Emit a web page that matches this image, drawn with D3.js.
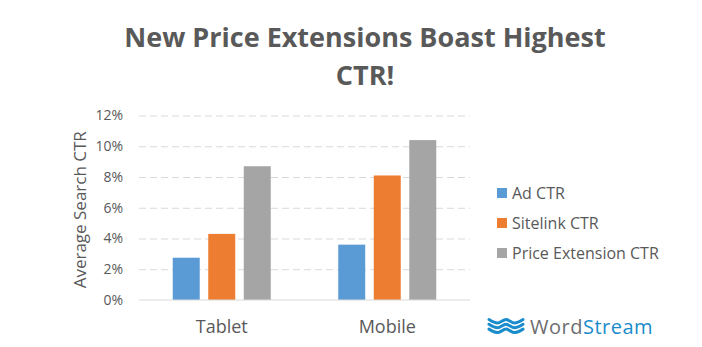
<!DOCTYPE html>
<html>
<head>
<meta charset="utf-8">
<script src="https://cdn.jsdelivr.net/npm/d3@7"></script>
<style>
  html, body { margin: 0; padding: 0; background: #fff; }
  svg { display: block; font-family: "Open Sans", "Noto Sans", sans-serif; }
</style>
</head>
<body>
<svg id="chart" width="702" height="347"></svg>
<script>
// Chart data
const categories = ["Tablet", "Mobile"];
const seriesNames = ["Ad CTR", "Sitelink CTR", "Price Extension CTR"];
const adCtr = [0.0275, 0.036];
const sitelinkCtr = [0.043, 0.081];
const priceExtensionCtr = [0.087, 0.104];
const yTicks = [0, 0.02, 0.04, 0.06, 0.08, 0.10, 0.12];
const titleLines = ["New Price Extensions Boast Highest", "CTR!"];
const yAxisTitle = "Average Search CTR";

const colors = ["#5b9bd5", "#ed7d31", "#a5a5a5"];
const seriesValues = [adCtr, sitelinkCtr, priceExtensionCtr];

const svg = d3.select("#chart");
const textColor = "#595959";

const plot = { left: 139, right: 470, top: 115.5, bottom: 300 };

const x0 = d3.scaleBand().domain(categories).range([plot.left, plot.right]).paddingInner(0).paddingOuter(0);
const x1 = d3.scaleBand().domain(seriesNames).range([0, x0.bandwidth()]).paddingInner(0.24).paddingOuter(0.95);
const y = d3.scaleLinear().domain([0, 0.12]).range([plot.bottom, plot.top]);

// Title
svg.append("g").selectAll("text").data(titleLines).join("text")
  .attr("x", 365)
  .attr("y", (d, i) => 47 + i * 38)
  .attr("text-anchor", "middle")
  .attr("font-weight", "bold")
  .attr("font-size", 27)
  .attr("fill", textColor)
  .text(d => d);

// Gridlines and value axis
const yAxis = d3.axisLeft(y).tickValues(yTicks).tickFormat(d3.format(".0%")).tickSize(0).tickPadding(0);
const gy = svg.append("g").attr("transform", `translate(${plot.left},0)`).call(yAxis);
gy.select(".domain").remove();
gy.selectAll(".tick text")
  .attr("x", -16)
  .attr("font-size", 14)
  .attr("font-family", "\"Open Sans\", sans-serif")
  .attr("fill", textColor);
gy.selectAll(".tick").filter(d => d > 0).append("line")
  .attr("x1", 0).attr("x2", plot.right - plot.left)
  .attr("stroke", "#d9d9d9").attr("stroke-width", 1.2)
  .attr("stroke-dasharray", "7,4");

// Bars
const rows = categories.map((c, i) => ({ cat: c, vals: seriesNames.map((s, j) => ({ s, v: seriesValues[j][i], j })) }));
svg.append("g").selectAll("g").data(rows).join("g")
  .attr("transform", d => `translate(${x0(d.cat)},0)`)
  .selectAll("rect").data(d => d.vals).join("rect")
  .attr("x", d => x1(d.s))
  .attr("width", x1.bandwidth())
  .attr("y", d => y(d.v))
  .attr("height", d => y(0) - y(d.v))
  .attr("fill", d => colors[d.j]);

// Baseline
svg.append("line")
  .attr("x1", plot.left).attr("x2", plot.right)
  .attr("y1", y(0)).attr("y2", y(0))
  .attr("stroke", "#d9d9d9").attr("stroke-width", 1.2);

// Category axis
const xAxis = d3.axisBottom(x0).tickSize(0).tickPadding(0);
const gx = svg.append("g").attr("transform", `translate(0,${plot.bottom})`).call(xAxis);
gx.select(".domain").remove();
gx.selectAll(".tick text")
  .attr("y", 33)
  .attr("dy", 0)
  .attr("font-size", 18)
  .attr("font-family", "\"Open Sans\", sans-serif")
  .attr("fill", textColor);

// Y axis title
svg.append("text")
  .attr("transform", `translate(86,${(plot.top + plot.bottom) / 2 + 2}) rotate(-90)`)
  .attr("text-anchor", "middle")
  .attr("font-size", 17)
  .attr("fill", textColor)
  .text(yAxisTitle);

// Legend
const legend = svg.append("g").selectAll("g").data(seriesNames).join("g")
  .attr("transform", (d, i) => `translate(497,${193 + i * 30})`);
legend.append("rect").attr("x", 0).attr("y", -5).attr("width", 10).attr("height", 10)
  .attr("fill", (d, i) => colors[i]);
legend.append("text").attr("x", 15).attr("y", 6)
  .attr("font-size", 16).attr("fill", textColor).text(d => d);

// WordStream logo
const logo = svg.append("g");
const waveLine = d3.line().curve(d3.curveCatmullRom);
[0, 1, 2].forEach(k => {
  const pts = d3.range(0, 5).map(i => [489 + i * 8.5, 320 + k * 4.8 + (i % 2 ? 3 : -0.5)]);
  logo.append("path").attr("d", waveLine(pts))
    .attr("fill", "none").attr("stroke", "#1a8ccc").attr("stroke-width", 3)
    .attr("stroke-linecap", "round");
});
const wt = logo.append("text").attr("x", 530).attr("y", 334).attr("font-size", 20)
  .attr("font-family", "\"Open Sans\", sans-serif").attr("letter-spacing", 0.5);
wt.append("tspan").attr("fill", "#6d6e71").text("Word");
wt.append("tspan").attr("fill", "#1a8ccc").text("Stream");
</script>
</body>
</html>
